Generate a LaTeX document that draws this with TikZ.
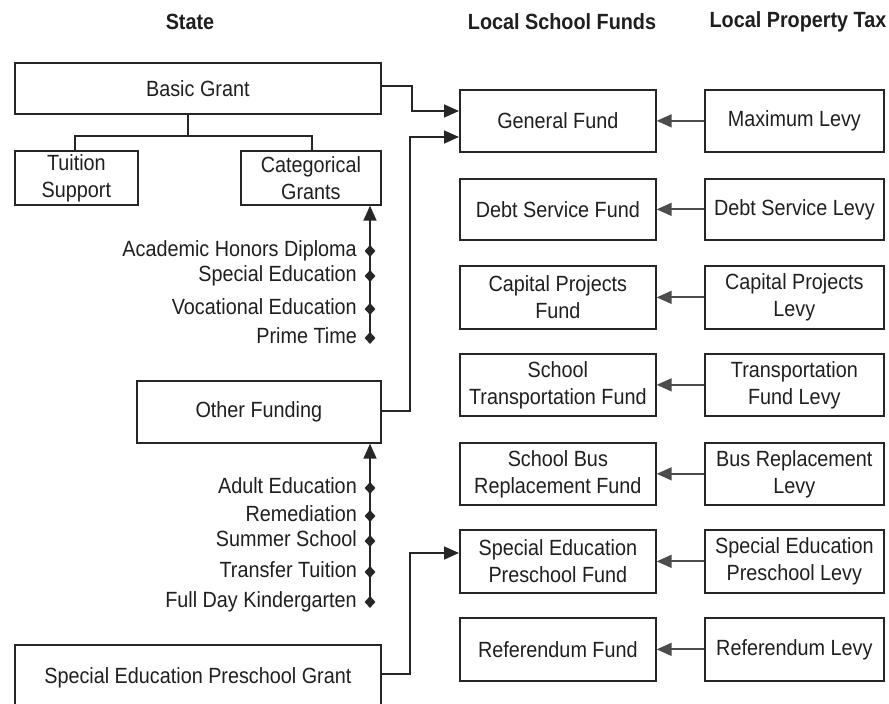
\documentclass[tikz,border=0pt]{standalone}
\usepackage{fontspec}
\setmainfont[FakeStretch=0.9]{Liberation Sans}
\usetikzlibrary{arrows.meta,shapes.geometric}
\begin{document}
\begin{tikzpicture}[x=1pt,y=-1pt,
  every node/.style={font=\fontsize{22}{27}\selectfont, text=black!88},
  head/.style={font=\bfseries\fontsize{22}{27}\selectfont},
  box/.style={draw=black!85, line width=1.7pt, align=center, inner sep=0pt, anchor=north west},
  item/.style={anchor=mid east, inner sep=0pt, yshift=-3pt},
  dot/.style={diamond, fill=black!85, draw=none, inner sep=0pt, minimum width=11pt, minimum height=12pt},
  link/.style={draw=black!85, line width=1.7pt},
  tip/.style={-{Triangle[length=15pt,width=13pt]}},
  levy/.style={draw=black!70, line width=1.8pt, -{Triangle[length=15pt,width=13pt]}}
]
\useasboundingbox (0,0) rectangle (889,704);
\clip (0,0) rectangle (889,704);

% headers
\node[head] (hstate) at (190,22) {State};
\node[head] (hfunds) at (562,22) {Local School Funds};
\node[head] (htax) at (798,22) {Local Property Tax};

% state boxes
\node[box, minimum width=366pt, minimum height=51pt] (bg) at (14,62) {Basic Grant};
\node[box, minimum width=123pt, minimum height=54pt] (ts) at (14,150) {Tuition\\Support};
\node[box, minimum width=140pt, minimum height=54pt] (cg) at (240,150) {Categorical\\Grants};
\node[box, minimum width=244pt, minimum height=62pt] (of) at (136,380) {Other Funding};
\node[box, minimum width=366pt, minimum height=70pt] (sg) at (14,644) {\raisebox{8pt}{Special Education Preschool Grant}};

% funds
\node[box, minimum width=196pt, minimum height=62pt] (gf) at (459,89) {General Fund};
\node[box, minimum width=196pt, minimum height=61pt] (dsf) at (459,178) {Debt Service Fund};
\node[box, minimum width=196pt, minimum height=63pt] (cpf) at (459,265) {Capital Projects\\Fund};
\node[box, minimum width=196pt, minimum height=62pt] (stf) at (459,353) {School\\Transportation Fund};
\node[box, minimum width=196pt, minimum height=62pt] (sbf) at (459,442) {School Bus\\Replacement Fund};
\node[box, minimum width=196pt, minimum height=63pt] (sepf) at (459,529) {Special Education\\Preschool Fund};
\node[box, minimum width=196pt, minimum height=63pt] (rf) at (459,617) {Referendum Fund};

% levies
\node[box, minimum width=179pt, minimum height=62pt] (ml) at (704,89) {Maximum Levy};
\node[box, minimum width=179pt, minimum height=61pt] (dsl) at (704,178) {Debt Service Levy};
\node[box, minimum width=179pt, minimum height=63pt] (cpl) at (704,265) {Capital Projects\\Levy};
\node[box, minimum width=179pt, minimum height=62pt] (tfl) at (704,353) {Transportation\\Fund Levy};
\node[box, minimum width=179pt, minimum height=62pt] (brl) at (704,442) {Bus Replacement\\Levy};
\node[box, minimum width=179pt, minimum height=63pt] (sepl) at (704,529) {Special Education\\Preschool Levy};
\node[box, minimum width=179pt, minimum height=63pt] (rl) at (704,617) {Referendum Levy};

% levy -> fund arrows
\draw[levy] (ml) -- (gf);
\draw[levy] (dsl) -- (dsf);
\draw[levy] (cpl) -- (cpf);
\draw[levy] (tfl) -- (stf);
\draw[levy] (brl) -- (sbf);
\draw[levy] (sepl) -- (sepf);
\draw[levy] (rl) -- (rf);

% tree under basic grant
\coordinate (tj) at (188,136);
\draw[link] (bg.south -| tj) -- (tj);
\draw[link] (ts.north -| 75,0) |- (tj) -| (cg.north -| 312,0);

% state -> general fund
\draw[link, tip] (bg.east |- 0,86) -- (412,86) |- (gf.west |- 0,111);
\draw[link, tip] (of.east |- 0,411) -- (410,411) |- (gf.west |- 0,137);
\draw[link, tip] (sg.east |- 0,674) -- (410,674) |- (sepf.west |- 0,553);

% categorical items
\node[item] (i1) at (357,251) {Academic Honors Diploma};
\node[item] (i2) at (357,276) {Special Education};
\node[item] (i3) at (357,309) {Vocational Education};
\node[item] (i4) at (357,338) {Prime Time};
\node[dot] (d1) at (370,251) {};
\node[dot] (d2) at (370,276) {};
\node[dot] (d3) at (370,309) {};
\node[dot] (d4) at (370,338) {};
\draw[link, tip] (d4.center) -- (cg.south -| d4);

% other funding items
\node[item] (j1) at (357,488) {Adult Education};
\node[item] (j2) at (357,516) {Remediation};
\node[item] (j3) at (357,541) {Summer School};
\node[item] (j4) at (357,572) {Transfer Tuition};
\node[item] (j5) at (357,602) {Full Day Kindergarten};
\node[dot] (e1) at (370,488) {};
\node[dot] (e2) at (370,516) {};
\node[dot] (e3) at (370,541) {};
\node[dot] (e4) at (370,572) {};
\node[dot] (e5) at (370,602) {};
\draw[link, tip] (e5.center) -- (of.south -| e5);
\end{tikzpicture}
\end{document}
